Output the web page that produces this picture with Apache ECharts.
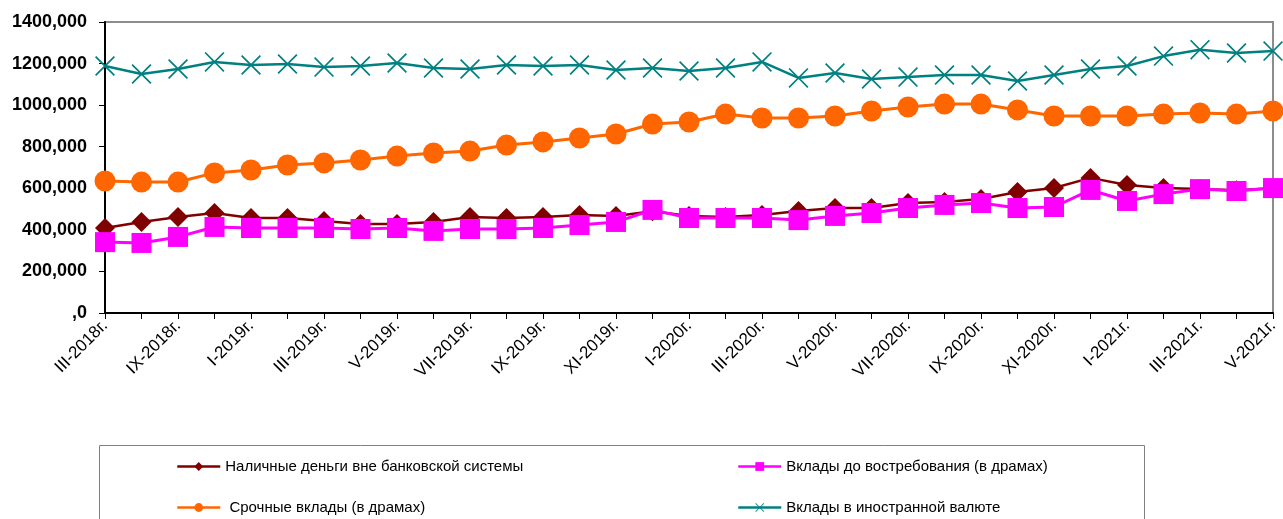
<!DOCTYPE html>
<html><head><meta charset="utf-8">
<script src="https://cdn.jsdelivr.net/npm/echarts@6/dist/echarts.min.js"></script>
<style>html,body{margin:0;padding:0;background:#fff}#c{width:1283px;height:519px}</style>
</head><body><div id="c"></div>
<script>
const categories = ['III-2018г.','VI-2018г.','IX-2018г.','XII-2018г.',
  'I-2019г.','II-2019г.','III-2019г.','IV-2019г.','V-2019г.','VI-2019г.','VII-2019г.','VIII-2019г.','IX-2019г.','X-2019г.','XI-2019г.','XII-2019г.',
  'I-2020г.','II-2020г.','III-2020г.','IV-2020г.','V-2020г.','VI-2020г.','VII-2020г.','VIII-2020г.','IX-2020г.','X-2020г.','XI-2020г.','XII-2020г.',
  'I-2021г.','II-2021г.','III-2021г.','IV-2021г.','V-2021г.'];
const seriesNames = ['Наличные деньги вне банковской системы','Вклады до востребования (в драмах)',' Срочные вклады (в драмах)','Вклады в иностранной валюте'];
const cashOutside = [409000,438000,462000,481000,457000,457000,443000,428000,428000,438000,462000,457000,462000,471000,467000,490000,467000,462000,471000,491000,505000,505000,529000,534000,548000,582000,601000,650000,616000,601000,596000,590000,600000];
const demandDeposits = [341000,337000,366000,414000,409000,409000,409000,404000,409000,395000,404000,404000,409000,423000,438000,496000,457000,457000,457000,447000,467000,481000,505000,520000,529000,505000,510000,592000,539000,572000,596000,587000,601000];
const timeDeposits = [635000,630000,630000,674000,688000,712000,722000,736000,755000,770000,779000,808000,823000,842000,861000,909000,919000,957000,938000,938000,948000,972000,991000,1005000,1005000,977000,948000,948000,948000,957000,962000,957000,972000];
const fxDeposits = [1188000,1150000,1174000,1208000,1193000,1198000,1183000,1188000,1203000,1179000,1174000,1193000,1188000,1193000,1169000,1179000,1164000,1179000,1208000,1131000,1155000,1126000,1135000,1145000,1145000,1116000,1145000,1174000,1188000,1236000,1267000,1251000,1260000];

const crossPath = 'path://M0,1.2L1.2,0L10,8.8L18.8,0L20,1.2L11.2,10L20,18.8L18.8,20L10,11.2L1.2,20L0,18.8L8.8,10Z';
const font = 'Liberation Sans, Arial, sans-serif';
const chart = echarts.init(document.getElementById('c'), null, {renderer:'canvas'});
function legendItem(name, left, top){
  return {data:[name], left:left, top:top, orient:'horizontal', padding:0, itemWidth:43, itemHeight:11, itemGap:5,
    lineStyle:{width:2.5},
    textStyle:{fontFamily:font, fontSize:15, color:'#000'}, selectedMode:false};
}
chart.setOption({
  animation:false,
  backgroundColor:'#fff',
  grid:{left:105, right:10, top:22, bottom:206, show:true, borderColor:'#8c8c8c', borderWidth:2, containLabel:false},
  xAxis:{type:'category', data:categories, boundaryGap:false,
    axisLine:{show:true, lineStyle:{color:'#000', width:2}},
    axisTick:{show:true, interval:0, length:6, lineStyle:{color:'#000', width:1}},
    axisLabel:{interval:1, rotate:45, fontFamily:font, fontSize:17, color:'#000', margin:10},
    splitLine:{show:false}},
  yAxis:{type:'value', min:0, max:1400000, interval:200000,
    axisLine:{show:true, lineStyle:{color:'#000', width:2}},
    axisTick:{show:true, length:6, lineStyle:{color:'#000', width:1}},
    axisLabel:{fontFamily:font, fontSize:18, fontWeight:'bold', color:'#000', margin:18,
      formatter:function(v){ return v===0 ? ',0' : (v/1000)+',000'; }},
    splitLine:{show:false}},
  legend:[
    legendItem(seriesNames[0], 176, 459),
    legendItem(seriesNames[1], 737, 459),
    legendItem(seriesNames[2], 176, 500),
    legendItem(seriesNames[3], 737, 500)
  ],
  graphic:[{type:'rect', shape:{x:99.5, y:445.5, width:1045, height:120}, style:{fill:'none', stroke:'#808080', lineWidth:1}, silent:true}],
  series:[
    {name:seriesNames[0], type:'line', data:cashOutside, symbol:'diamond', symbolSize:[20,20], z:2,
      lineStyle:{color:'#800000', width:2.5}, itemStyle:{color:'#800000'}},
    {name:seriesNames[1], type:'line', data:demandDeposits, symbol:'rect', symbolSize:20, z:3,
      lineStyle:{color:'#FF00FF', width:3}, itemStyle:{color:'#FF00FF'}},
    {name:seriesNames[2], type:'line', data:timeDeposits, symbol:'circle', symbolSize:21, z:4,
      lineStyle:{color:'#FF6600', width:3}, itemStyle:{color:'#FF6600'}},
    {name:seriesNames[3], type:'line', data:fxDeposits, symbol:crossPath, symbolSize:20, z:5,
      lineStyle:{color:'#008080', width:2.5}, itemStyle:{color:'#008080'}}
  ]
});
</script></body></html>
